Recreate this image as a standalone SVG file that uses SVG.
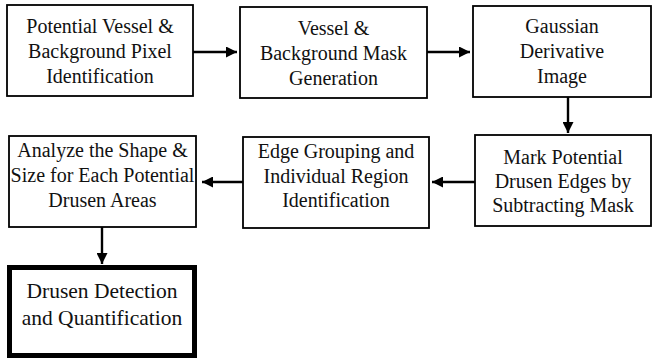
<svg xmlns="http://www.w3.org/2000/svg" width="656" height="362" viewBox="0 0 656 362" font-family="'Liberation Serif', 'DejaVu Serif', serif">
<style>
.box{fill:#fff;stroke:#000;stroke-width:1.8}
.thick{fill:#fff;stroke:#000;stroke-width:5}
text{font-family:'Liberation Serif','DejaVu Serif',serif;font-size:20px;fill:#111;text-anchor:middle}
.big{font-size:21.5px}
.conn{stroke:#000;stroke-width:2.4;fill:none;marker-end:url(#ah)}
</style>
<defs>
<marker id="ah" viewBox="0 0 10 10" refX="10" refY="5" markerWidth="11" markerHeight="11" markerUnits="userSpaceOnUse" orient="auto">
<path d="M0,0 L10,5 L0,10 z" fill="#000"/>
</marker>
</defs>
<g id="connectors">
<line class="conn" x1="193" y1="52" x2="237" y2="52"/>
<line class="conn" x1="427" y1="52" x2="470" y2="52"/>
<line class="conn" x1="568" y1="97" x2="568" y2="133"/>
<line class="conn" x1="475" y1="182" x2="432" y2="182"/>
<line class="conn" x1="243" y1="182" x2="202" y2="182"/>
<line class="conn" x1="102" y1="227" x2="102" y2="264"/>
</g>
<g id="n1">
<rect class="box" x="7" y="5" width="186" height="91"/>
<text x="100" y="33">Potential Vessel &amp;</text>
<text x="100" y="58">Background Pixel</text>
<text x="100" y="83">Identification</text>
</g>
<g id="n2">
<rect class="box" x="240" y="7" width="187" height="91"/>
<text x="333.5" y="35">Vessel &amp;</text>
<text x="333.5" y="60">Background Mask</text>
<text x="333.5" y="85">Generation</text>
</g>
<g id="n3">
<rect class="box" x="473" y="6" width="178" height="91"/>
<text x="562" y="33">Gaussian</text>
<text x="562" y="58">Derivative</text>
<text x="562" y="83">Image</text>
</g>
<g id="n4">
<rect class="box" x="475" y="135" width="176" height="91"/>
<text x="563" y="164">Mark Potential</text>
<text x="563" y="188">Drusen Edges by</text>
<text x="563" y="212">Subtracting Mask</text>
</g>
<g id="n5">
<rect class="box" x="243" y="137" width="186" height="91"/>
<text x="336" y="158">Edge Grouping and</text>
<text x="336" y="183">Individual Region</text>
<text x="336" y="207">Identification</text>
</g>
<g id="n6">
<rect class="box" x="9" y="136" width="187" height="91"/>
<text x="102.5" y="157">Analyze the Shape  &amp;</text>
<text x="102.5" y="182">Size for Each Potential</text>
<text x="102.5" y="207">Drusen Areas</text>
</g>
<g id="n7">
<rect class="thick" x="9.5" y="267.5" width="185" height="88"/>
<text class="big" x="102" y="298">Drusen Detection</text>
<text class="big" x="102" y="325">and Quantification</text>
</g>
</svg>
